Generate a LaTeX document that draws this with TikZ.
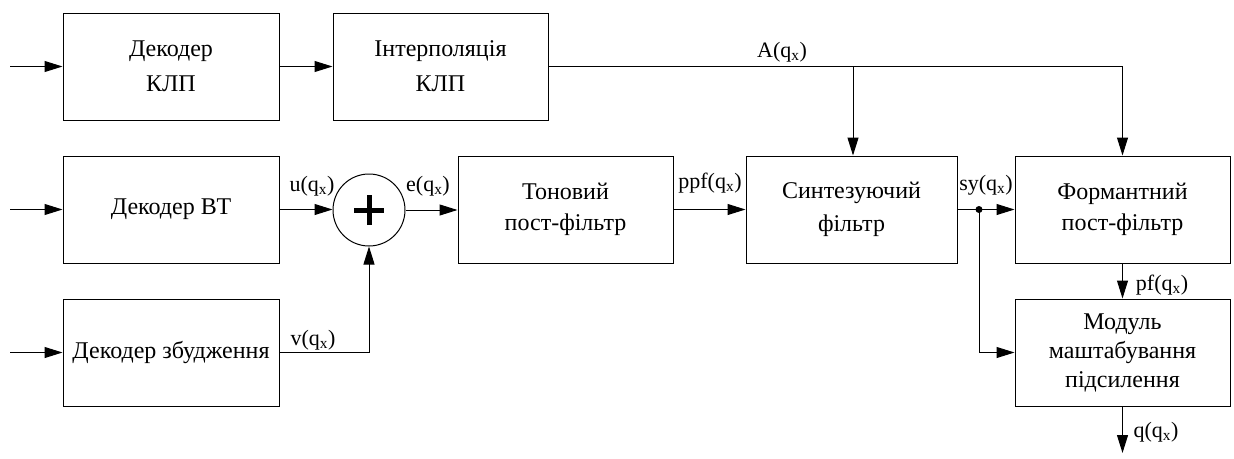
\documentclass[tikz,border=0pt]{standalone}
\usepackage{fontspec}
\setmainfont{Liberation Serif}
\usetikzlibrary{arrows.meta}

\begin{document}
\begin{tikzpicture}[x=1pt,y=-1pt,
  blk/.style={draw, line width=1pt, minimum width=216pt, minimum height=107pt,
    align=center, inner sep=0pt, font=\fontsize{24}{31}\selectfont},
  sig/.style={line width=1pt, -{Triangle[length=18pt,width=11pt]}},
  wire/.style={line width=1pt},
  lbl/.style={font=\fontsize{22}{26}\selectfont, inner sep=0pt}]
\useasboundingbox (0,0) rectangle (1234,458);

% blocks
\node[blk, font=\fontsize{24}{35}\selectfont] (klp) at (171,66.5) {Декодер\\КЛП};
\node[blk, minimum width=215pt, font=\fontsize{24}{35}\selectfont] (interp) at (440.5,66.5) {Інтерполяція\\КЛП};
\node[blk] (bt)     at (171,209.5)   {Декодер ВТ};
\node[blk] (zb)     at (171,352.5)   {Декодер збудження};
\node[blk, minimum width=215pt] (tone)    at (565.5,209.5)  {Тоновий\\пост-фільтр};
\node[blk, minimum width=211pt, font=\fontsize{24}{33}\selectfont] (synth) at (851.5,209.5) {Синтезуючий\\фільтр};
\node[blk, minimum width=215pt] (formant) at (1122.5,209.5) {Формантний\\пост-фільтр};
\node[blk, minimum width=215pt, font=\fontsize{24}{29}\selectfont] (module) at (1122.5,352.5) {Модуль\\маштабування\\підсилення};

% adder
\node[circle, draw, line width=1pt, minimum size=72pt, inner sep=0pt] (sum) at (369,210) {};
\draw[line width=5pt] ([xshift=-15pt]sum.center) -- ([xshift=15pt]sum.center);
\draw[line width=5pt] ([yshift=-15pt]sum.center) -- ([yshift=15pt]sum.center);

% inputs
\coordinate (in1) at (10,66.5);
\coordinate (in2) at (10,209.5);
\coordinate (in3) at (10,352.5);
\draw[sig] (in1) -- (klp.west);
\draw[sig] (in2) -- (bt.west);
\draw[sig] (in3) -- (zb.west);

% signal paths
\draw[sig] (klp) -- (interp);
\draw[sig] (bt.east) -- (bt.east -| sum.west);
\draw[sig] (zb.east) -| (sum.south);
\draw[sig] (sum.east) -- (sum.east -| tone.west);
\draw[sig] (tone) -- (synth);
\draw[sig] (synth) -- (formant);

% LPC coefficients bus
\coordinate (abr)  at (853,66.5);
\coordinate (aend) at (1122.5,66.5);
\draw[wire] (interp.east) -- (aend);
\draw[sig] (aend) -- (formant.north);
\draw[sig] (abr) -- (abr |- synth.north);

% branch to gain scaling
\coordinate (dot) at (979,209.5);
\fill (dot) circle (3.5pt);
\draw[sig] (dot) |- (module.west);
\draw[sig] (formant) -- (module);
\coordinate (out) at (1122.5,453);
\draw[sig] (module) -- (out);

% signal labels
\node[lbl] (la)  at (782,52)   {A(q\textsubscript{x})};
\node[lbl] (lu)  at (312,186)  {u(q\textsubscript{x})};
\node[lbl] (le)  at (428,186)  {e(q\textsubscript{x})};
\node[lbl] (lv)  at (313,340)  {v(q\textsubscript{x})};
\node[lbl] (lp)  at (710,183)  {ppf(q\textsubscript{x})};
\node[lbl] (ls)  at (986,185)  {sy(q\textsubscript{x})};
\node[lbl] (lpf) at (1162,285) {pf(q\textsubscript{x})};
\node[lbl] (lq)  at (1156,432) {q(q\textsubscript{x})};
\end{tikzpicture}
\end{document}
